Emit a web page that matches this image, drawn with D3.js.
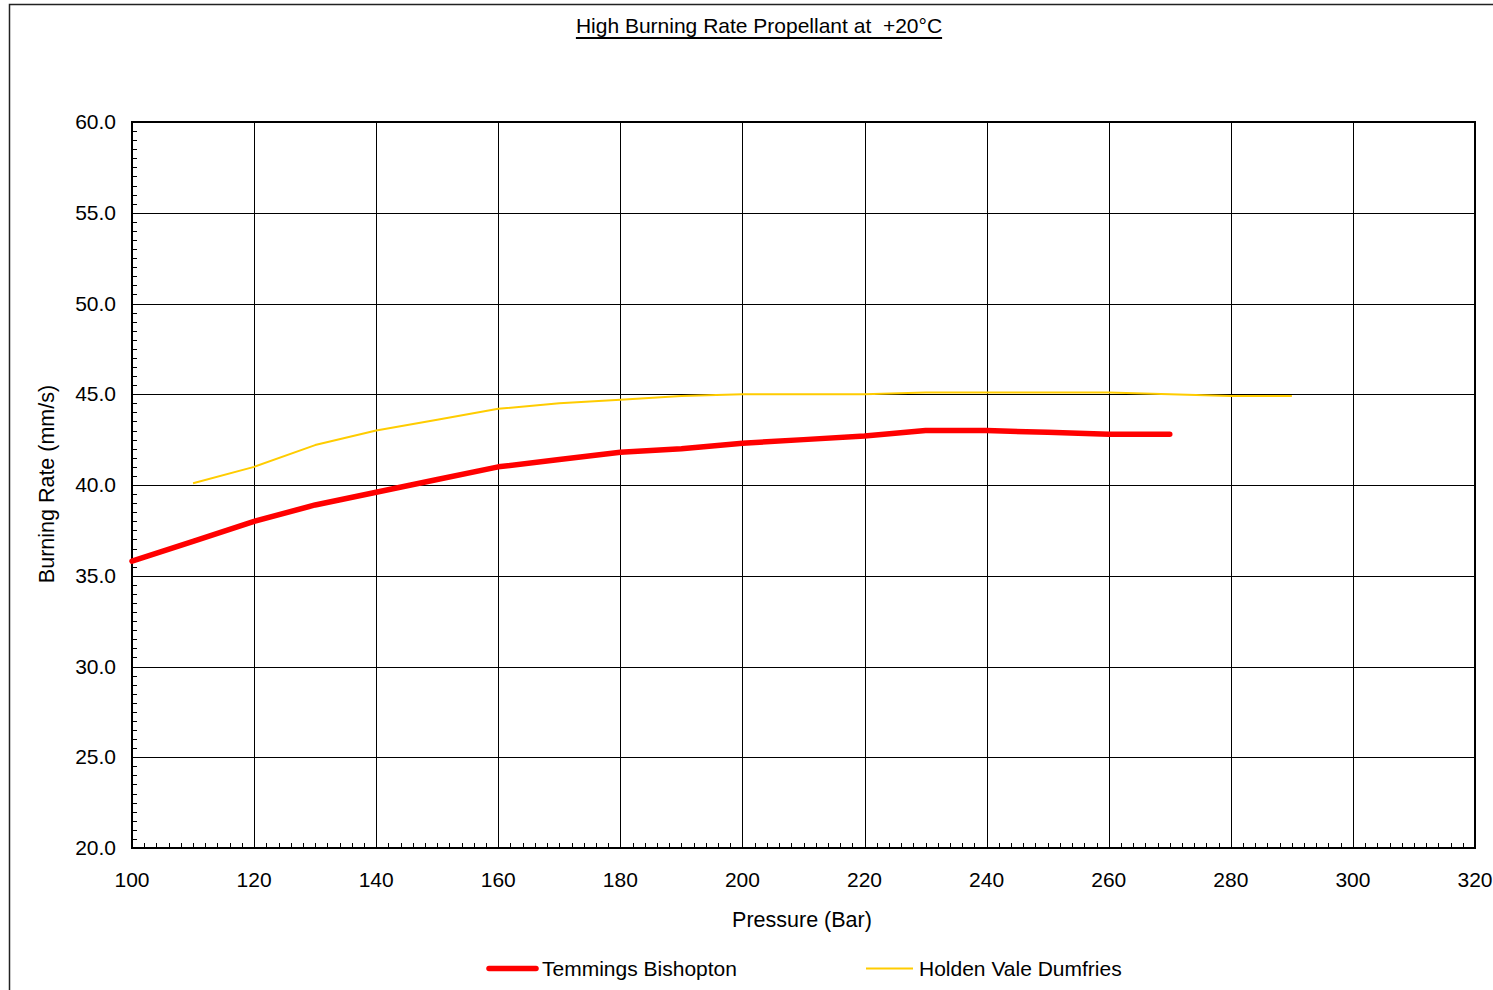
<!DOCTYPE html>
<html><head><meta charset="utf-8">
<script src="https://cdn.jsdelivr.net/npm/d3@7"></script>
<style>
body{margin:0;background:#fff;}
svg{display:block;font-family:"Liberation Sans",Arial,sans-serif;}
text{white-space:pre;}
</style></head>
<body>
<svg id="chart" width="1493" height="990"></svg>
<script>
const title = "High Burning Rate Propellant at  +20°C";
const xLabel = "Pressure (Bar)";
const yLabel = "Burning Rate (mm/s)";
const xTicks = [100,120,140,160,180,200,220,240,260,280,300,320];
const yTicks = [20,25,30,35,40,45,50,55,60];
const seriesNames = ["Temmings Bishopton","Holden Vale Dumfries"];
const seriesColors = ["#ff0000","#ffcc00"];
const temmingsX = [100,110,120,130,140,150,160,170,180,190,200,210,220,230,240,250,260,270];
const temmingsY = [35.8,36.9,38.0,38.9,39.6,40.3,41.0,41.4,41.8,42.0,42.3,42.5,42.7,43.0,43.0,42.9,42.8,42.8];
const holdenX = [110,120,130,140,150,160,170,180,190,200,210,220,230,240,250,260,270,280,290];
const holdenY = [40.1,41.0,42.2,43.0,43.6,44.2,44.5,44.7,44.9,45.0,45.0,45.0,45.1,45.1,45.1,45.1,45.0,44.9,44.9];

const svg = d3.select("#chart");
const L = 132, R = 1475, T = 122, B = 848;
const x = d3.scaleLinear().domain([100,320]).range([L,R]);
const y = d3.scaleLinear().domain([20,60]).range([B,T]);

// outer frame
svg.append("rect").attr("x",9.5).attr("y",4.5).attr("width",1500).attr("height",1000)
  .attr("fill","none").attr("stroke","#222").attr("stroke-width",1.5);

// title
const tt = svg.append("text").attr("x",759).attr("y",33).attr("text-anchor","middle")
  .attr("font-size",21).attr("fill","#000").attr("xml:space","preserve").text(title);
const tb = tt.node().getBBox();
svg.append("line").attr("x1",tb.x).attr("x2",tb.x+tb.width).attr("y1",38).attr("y2",38)
  .attr("stroke","#000").attr("stroke-width",2);

// minor ticks
const g = svg.append("g");
const xMinor = d3.range(102,320,2).filter(v=>v%20!==0);
g.selectAll(".xm").data(xMinor).join("line")
  .attr("x1",d=>Math.round(x(d))+0.5).attr("x2",d=>Math.round(x(d))+0.5)
  .attr("y1",B).attr("y2",B-5).attr("stroke","#000").attr("stroke-width",1);
const yMinor = d3.range(20.5,60,0.5).filter(v=>v%5!==0);
g.selectAll(".ym").data(yMinor).join("line")
  .attr("y1",d=>Math.round(y(d))+0.5).attr("y2",d=>Math.round(y(d))+0.5)
  .attr("x1",L).attr("x2",L+5).attr("stroke","#000").attr("stroke-width",1);

// gridlines
g.selectAll(".gx").data(xTicks.slice(1,-1)).join("line")
  .attr("x1",d=>Math.round(x(d))+0.5).attr("x2",d=>Math.round(x(d))+0.5)
  .attr("y1",T).attr("y2",B).attr("stroke","#000").attr("stroke-width",1);
g.selectAll(".gy").data(yTicks.slice(1,-1)).join("line")
  .attr("y1",d=>Math.round(y(d))+0.5).attr("y2",d=>Math.round(y(d))+0.5)
  .attr("x1",L).attr("x2",R).attr("stroke","#000").attr("stroke-width",1);

// plot frame
svg.append("rect").attr("x",L).attr("y",T).attr("width",R-L).attr("height",B-T)
  .attr("fill","none").attr("stroke","#000").attr("stroke-width",2);

// tick labels
svg.selectAll(".xl").data(xTicks).join("text")
  .attr("x",d=>x(d)).attr("y",887).attr("text-anchor","middle")
  .attr("font-size",21).text(d=>d);
svg.selectAll(".yl").data(yTicks).join("text")
  .attr("x",116).attr("y",d=>y(d)+7).attr("text-anchor","end")
  .attr("font-size",21).text(d=>d.toFixed(1));

// axis titles
svg.append("text").attr("x",802).attr("y",927).attr("text-anchor","middle")
  .attr("font-size",21.5).text(xLabel);
svg.append("text").attr("transform","translate(54,484) rotate(-90)").attr("text-anchor","middle")
  .attr("font-size",21.5).text(yLabel);

// lines
const line = d3.line().x(d=>x(d[0])).y(d=>y(d[1]));
const tData = temmingsX.map((v,i)=>[v,temmingsY[i]]);
const hData = holdenX.map((v,i)=>[v,holdenY[i]]);
svg.append("path").datum(hData).attr("d",line).attr("fill","none")
  .attr("stroke",seriesColors[1]).attr("stroke-width",2).attr("stroke-linejoin","round");
svg.append("path").datum(tData).attr("d",line).attr("fill","none")
  .attr("stroke",seriesColors[0]).attr("stroke-width",5.5).attr("stroke-linejoin","round").attr("stroke-linecap","round");

// legend
const leg = [{x1:489,x2:536,w:5.5,tx:542},{x1:866,x2:913,w:2,tx:919}];
leg.forEach((l,i)=>{
  svg.append("line").attr("x1",l.x1).attr("x2",l.x2).attr("y1",968.5).attr("y2",968.5)
    .attr("stroke",seriesColors[i]).attr("stroke-width",l.w).attr("stroke-linecap",i===0?"round":"butt");
  svg.append("text").attr("x",l.tx).attr("y",976).attr("font-size",21).text(seriesNames[i]);
});
</script>
</body></html>
